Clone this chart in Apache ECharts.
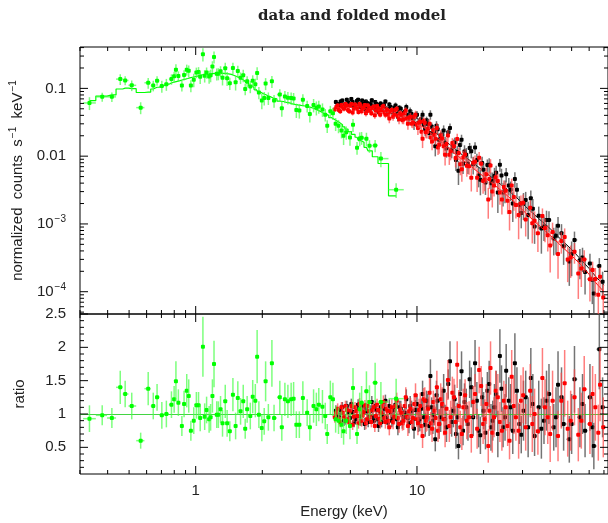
<!DOCTYPE html>
<html><head><meta charset="utf-8">
<script src="https://cdn.jsdelivr.net/npm/echarts@6/dist/echarts.min.js"></script>
<style>html,body{margin:0;padding:0;background:#fff}#c{width:608px;height:523px}</style>
</head><body><div id="c"></div><script>
// ---------- data ----------
// green (soft X-ray) spectrum
const gE = [0.331,0.378,0.418,0.456,0.48,0.514,0.564,0.61,0.643,0.669,
0.703,0.737,0.777,0.799,0.814,0.835,0.866,0.886,0.911,0.93,
0.951,0.98,1.007,1.03,1.048,1.078,1.098,1.12,1.15,1.168,
1.19,1.21,1.245,1.266,1.295,1.322,1.36,1.387,1.426,1.473,
1.515,1.55,1.595,1.64,1.674,1.708,1.765,1.81,1.86,1.895,
1.93,1.99,2.04,2.07,2.13,2.21,2.26,2.4,2.45,2.53,
2.61,2.7,2.77,2.85,2.94,3.05,3.19,3.28,3.41,3.51,
3.6,3.74,3.85,3.93,4.06,4.17,4.29,4.42,4.56,4.66,
4.79,4.98,5.14,5.36,5.51,5.62,5.91,6.1,6.47,6.87,8.05];
const gFlux = [0.061,0.075,0.075,0.137,0.131,0.111,0.052,0.121,0.110,0.130,
0.108,0.115,0.137,0.151,0.189,0.152,0.110,0.158,0.189,0.182,
0.110,0.134,0.172,0.175,0.148,0.320,0.154,0.171,0.150,0.156,
0.210,0.291,0.164,0.165,0.179,0.144,0.198,0.141,0.119,0.200,
0.123,0.180,0.144,0.156,0.098,0.127,0.107,0.130,0.115,0.169,
0.087,0.066,0.072,0.118,0.072,0.127,0.066,0.081,0.051,0.076,
0.073,0.072,0.071,0.048,0.047,0.068,0.055,0.042,0.057,0.052,
0.054,0.049,0.041,0.028,0.046,0.043,0.030,0.028,0.024,0.020,
0.0225,0.0189,0.029,0.0133,0.0182,0.0187,0.0181,0.0142,0.0144,0.0092,0.0032];
const gModel = [0.066,0.077,0.080,0.098,0.101,0.099,0.087,0.088,0.098,0.104,
0.110,0.115,0.120,0.124,0.127,0.130,0.134,0.137,0.140,0.143,
0.146,0.149,0.152,0.155,0.157,0.159,0.160,0.161,0.163,0.164,
0.165,0.166,0.166,0.167,0.167,0.167,0.166,0.164,0.161,0.155,
0.150,0.145,0.138,0.131,0.125,0.119,0.110,0.103,0.096,0.091,
0.088,0.084,0.081,0.079,0.076,0.072,0.070,0.065,0.064,0.062,
0.061,0.059,0.058,0.057,0.056,0.055,0.054,0.053,0.051,0.049,
0.047,0.044,0.042,0.040,0.037,0.035,0.033,0.031,0.029,0.027,
0.025,0.023,0.021,0.019,0.017,0.016,0.0135,0.012,0.0098,0.0078,0.0026];
const gRatio = [0.93,0.98,0.94,1.40,1.30,1.12,0.60,1.38,1.12,1.25,
0.98,1.00,1.14,1.22,1.49,1.17,0.82,1.15,1.35,1.27,
0.75,0.90,1.13,1.13,0.94,2.01,0.96,1.06,0.92,0.95,
1.27,1.75,0.99,0.99,1.07,0.86,1.19,0.86,0.74,1.29,
0.82,1.24,1.04,1.19,0.78,1.07,0.97,1.26,1.20,1.86,
0.99,0.79,0.89,1.49,0.95,1.76,0.94,1.25,0.80,1.22,
1.19,1.22,1.23,0.84,0.84,1.24,1.02,0.80,1.12,1.07,
1.14,1.11,0.97,0.70,1.25,1.22,0.92,0.90,0.84,0.74,
0.90,0.82,1.39,0.70,1.07,1.17,1.34,1.18,1.47,1.18,1.23];
const gErr = [0.2,0.15,0.15,0.25,0.2,0.2,0.12,0.25,0.2,0.2,
0.2,0.2,0.2,0.2,0.3,0.2,0.15,0.2,0.25,0.25,
0.15,0.2,0.2,0.2,0.2,0.45,0.2,0.2,0.2,0.2,
0.25,0.35,0.2,0.2,0.2,0.2,0.25,0.2,0.15,0.25,
0.2,0.25,0.2,0.25,0.15,0.2,0.2,0.25,0.25,0.4,
0.2,0.2,0.2,0.3,0.2,0.35,0.2,0.25,0.2,0.25,
0.25,0.25,0.25,0.2,0.2,0.25,0.2,0.2,0.25,0.25,
0.25,0.25,0.2,0.15,0.25,0.25,0.2,0.2,0.2,0.2,
0.2,0.2,0.3,0.15,0.25,0.25,0.3,0.25,0.3,0.3,0.3];

// black spectrum (first set)
const bE = [4.3,4.45,4.6,4.75,4.9,5.05,5.2,5.35,5.5,5.65,
5.8,5.95,6.1,6.25,6.4,6.55,6.7,6.85,7.0,7.2,
7.4,7.6,7.8,8.0,8.2,8.45,8.7,8.95,9.2,9.45,
9.7,10.0,10.3,10.6,10.9,11.2,11.5,11.8,12.1,12.4,
12.8,13.2,13.6,14.1,14.6,15.0,15.4,15.9,16.4,17.0,
17.6,18.3,19.0,19.7,20.4,21.2,22.0,22.8,23.7,24.5,
25.3,26.5,27.7,29.0,29.6,31.0,32.7,34.0,35.5,37.5,
39.5,41.5,43.4,46.0,48.8,51.5,54.5,57.5,60.5,63.0,66.7];
const bFlux = [0.063,0.057,0.066,0.056,0.062,0.070,0.053,0.065,0.058,0.066,
0.050,0.061,0.055,0.067,0.051,0.059,0.045,0.060,0.053,0.064,
0.045,0.053,0.047,0.056,0.038,0.050,0.043,0.053,0.036,0.042,
0.030,0.041,0.031,0.041,0.025,0.030,0.041,0.022,0.014,0.025,
0.0185,0.024,0.0131,0.026,0.0142,0.0088,0.0061,0.0175,0.0117,0.0077,
0.0118,0.0134,0.0052,0.0079,0.0041,0.0075,0.0043,0.0057,0.0075,0.0029,
0.0054,0.0032,0.0046,0.0019,0.00145,0.00225,0.0024,0.00092,0.00132,0.00092,
0.00114,0.00061,0.00094,0.00047,0.00028,0.00058,0.00029,0.000195,0.00026,0.000094,0.00024];
const bRatio = [1.05,0.95,1.10,0.92,1.02,1.15,0.88,1.08,0.97,1.12,
0.85,1.04,0.96,1.18,0.90,1.06,0.82,1.10,0.98,1.20,
0.87,1.03,0.93,1.14,0.80,1.08,0.95,1.22,0.86,1.05,
0.78,1.15,0.92,1.30,0.84,1.10,1.57,0.90,0.62,1.20,
0.95,1.35,0.80,1.79,1.05,0.70,0.52,1.64,1.18,0.85,
1.40,1.76,0.75,1.25,0.72,1.45,0.90,1.30,1.87,0.80,
1.65,1.10,1.76,0.85,0.69,1.25,1.54,0.67,1.10,0.90,
1.30,0.80,1.44,0.85,0.62,1.52,0.95,0.75,1.25,0.52,1.97];
const bErr = [0.08,0.08,0.08,0.08,0.08,0.08,0.08,0.08,0.08,0.08,
0.09,0.09,0.09,0.09,0.09,0.09,0.09,0.09,0.09,0.09,
0.1,0.1,0.1,0.12,0.12,0.12,0.12,0.15,0.15,0.15,
0.15,0.15,0.18,0.2,0.18,0.2,0.25,0.2,0.18,0.22,
0.22,0.25,0.22,0.3,0.25,0.22,0.2,0.3,0.28,0.25,
0.3,0.35,0.25,0.3,0.25,0.35,0.3,0.35,0.4,0.3,
0.4,0.35,0.45,0.3,0.28,0.4,0.45,0.3,0.4,0.35,
0.45,0.35,0.5,0.4,0.35,0.5,0.45,0.4,0.5,0.35,0.6];
// black spectrum (second set of bins)
const bE2 = [4.38,4.52,4.68,4.82,4.98,5.12,5.28,5.42,5.58,5.72,
5.88,6.02,6.18,6.32,6.48,6.62,6.78,6.92,7.1,7.3,
7.5,7.7,7.9,8.1,8.32,8.58,8.82,9.08,9.32,9.58,
9.85,10.15,10.45,10.75,11.05,11.35,11.65,11.95,12.25,12.6,
13.0,13.4,13.85,14.35,14.8,15.2,15.65,16.15,16.7,17.3,
17.95,18.65,19.35,20.0,20.8,21.6,22.4,23.2,24.1,25.0,
26.0,27.1,28.3,30.3,31.8,33.4,36.5,38.5,42.5,45.0,
50.0,56.0,62.0,69.0];
const bFlux2 = [0.059,0.064,0.054,0.068,0.057,0.063,0.055,0.068,0.053,0.060,
0.064,0.051,0.060,0.054,0.063,0.051,0.057,0.048,0.058,0.050,
0.058,0.045,0.052,0.045,0.052,0.040,0.045,0.040,0.046,0.036,
0.039,0.031,0.035,0.029,0.034,0.022,0.0275,0.0228,0.028,0.0173,
0.0207,0.0156,0.0225,0.0124,0.0159,0.0115,0.0146,0.0077,0.0105,0.0132,
0.0076,0.0088,0.0045,0.0063,0.0074,0.0040,0.0051,0.0029,0.0052,0.0032,
0.0037,0.0020,0.0032,0.0020,0.00136,0.00167,0.00086,0.00114,0.00067,0.00073,
0.00036,0.00032,0.00015,0.00014];
const bRatio2 = [0.98,1.06,0.90,1.12,0.94,1.03,0.92,1.14,0.90,1.02,
1.09,0.88,1.05,0.95,1.12,0.92,1.04,0.88,1.08,0.95,
1.12,0.90,1.06,0.92,1.10,0.88,1.02,0.94,1.12,0.92,
1.06,0.88,1.08,0.95,1.20,0.82,1.10,0.98,1.28,0.85,
1.12,0.92,1.45,0.88,1.22,0.95,1.30,0.75,1.10,1.52,
0.95,1.20,0.68,1.05,1.35,0.80,1.10,0.70,1.38,0.95,
1.20,0.75,1.35,1.05,0.80,1.15,0.78,1.20,0.95,1.25,
0.85,1.15,0.80,1.10];
const bErr2 = [0.08,0.08,0.08,0.08,0.08,0.08,0.08,0.08,0.08,0.08,
0.08,0.08,0.08,0.08,0.08,0.08,0.08,0.08,0.08,0.1,
0.1,0.1,0.1,0.1,0.1,0.1,0.1,0.1,0.15,0.15,
0.15,0.15,0.15,0.15,0.15,0.15,0.15,0.15,0.22,0.22,
0.22,0.22,0.22,0.22,0.22,0.22,0.22,0.22,0.28,0.28,
0.28,0.28,0.28,0.28,0.28,0.35,0.35,0.35,0.35,0.35,
0.35,0.35,0.35,0.45,0.45,0.45,0.45,0.45,0.45,0.45,
0.45,0.45,0.45,0.45];

// red spectrum (first set)
const rE = [4.25,4.38,4.5,4.62,4.75,4.88,5.0,5.12,5.25,5.38,
5.5,5.62,5.75,5.88,6.0,6.15,6.3,6.45,6.6,6.75,
6.9,7.05,7.2,7.35,7.5,7.7,7.9,8.1,8.3,8.5,
8.7,8.9,9.1,9.35,9.6,9.85,10.1,10.35,10.6,10.85,
11.1,11.4,11.7,12.0,12.3,12.6,13.0,13.4,13.8,14.2,
14.7,15.2,15.7,16.2,16.8,17.6,18.3,19.1,19.9,20.6,
21.0,21.5,22.3,23.2,24.2,25.2,26.2,26.8,28.0,29.5,
31.0,32.5,34.0,35.2,36.9,39.0,41.0,43.4,46.5,49.5,
53.6,57.0,60.5,64.0,67.2,69.5];
const rFlux = [0.049,0.056,0.046,0.053,0.059,0.048,0.056,0.044,0.058,0.050,
0.059,0.046,0.052,0.043,0.056,0.047,0.052,0.040,0.055,0.044,
0.048,0.055,0.041,0.048,0.036,0.048,0.041,0.050,0.035,0.041,
0.035,0.047,0.030,0.038,0.031,0.041,0.026,0.032,0.018,0.031,
0.023,0.030,0.0165,0.0207,0.026,0.0147,0.0182,0.0105,0.0202,0.0118,
0.014,0.0179,0.0076,0.0096,0.0072,0.0048,0.0083,0.0095,0.0043,0.0054,
0.0023,0.0073,0.0037,0.0043,0.0023,0.0031,0.0015,0.0037,0.0019,0.0020,
0.00116,0.00173,0.00111,0.00073,0.00131,0.00068,0.00076,0.00036,0.00064,0.00032,
0.000186,0.0003,0.000153,0.000154,0.000166,0.000082];
const rRatio = [0.95,1.08,0.88,1.02,1.12,0.92,1.05,0.84,1.10,0.97,
1.15,0.90,1.03,0.86,1.12,0.95,1.06,0.82,1.14,0.93,
1.02,1.18,0.88,1.05,0.80,1.10,0.96,1.20,0.85,1.02,
0.90,1.25,0.82,1.08,0.94,1.28,0.86,1.12,0.67,1.20,
0.95,1.32,0.78,1.05,1.40,0.85,1.15,0.72,1.51,0.95,
1.25,1.74,0.80,1.10,0.90,0.67,1.30,1.66,0.85,1.15,
0.52,1.69,0.95,1.25,0.75,1.10,0.60,1.56,0.95,1.20,
0.80,1.35,1.00,0.74,1.54,0.95,1.20,0.67,1.46,0.90,
0.69,1.37,0.85,1.10,1.44,0.80];
const rErr = [0.08,0.08,0.08,0.08,0.08,0.08,0.08,0.08,0.08,0.08,
0.09,0.09,0.09,0.09,0.09,0.09,0.09,0.09,0.09,0.09,
0.1,0.1,0.1,0.1,0.12,0.12,0.12,0.12,0.13,0.13,
0.14,0.15,0.15,0.16,0.16,0.18,0.18,0.2,0.18,0.2,
0.2,0.22,0.2,0.22,0.25,0.22,0.25,0.22,0.3,0.25,
0.28,0.35,0.25,0.28,0.28,0.25,0.3,0.35,0.3,0.3,
0.25,0.4,0.3,0.35,0.3,0.35,0.28,0.4,0.35,0.38,
0.35,0.4,0.38,0.35,0.45,0.4,0.45,0.38,0.5,0.45,
0.4,0.5,0.45,0.5,0.55,0.45];
// red spectrum (second set of bins)
const rE2 = [4.32,4.44,4.56,4.68,4.82,4.94,5.06,5.18,5.32,5.44,
5.56,5.68,5.82,5.94,6.08,6.22,6.38,6.52,6.68,6.82,
6.98,7.12,7.28,7.42,7.6,7.8,8.0,8.2,8.4,8.6,
8.8,9.0,9.22,9.48,9.72,9.98,10.22,10.48,10.72,10.98,
11.25,11.55,11.85,12.15,12.45,12.8,13.2,13.6,14.0,14.45,
14.95,15.45,15.95,16.5,17.2,17.95,18.7,19.5,20.25,21.25,
21.9,22.7,23.7,24.7,25.7,27.4,28.8,30.2,33.2,37.9,
40.0,44.9,48.0,51.5,55.3,62.2,66.0];
const rFlux2 = [0.053,0.048,0.057,0.050,0.056,0.046,0.059,0.050,0.054,0.045,
0.056,0.050,0.057,0.046,0.052,0.043,0.054,0.047,0.051,0.041,
0.053,0.044,0.049,0.041,0.046,0.038,0.048,0.039,0.043,0.034,
0.043,0.036,0.037,0.030,0.038,0.029,0.031,0.023,0.033,0.0226,
0.0255,0.0188,0.0242,0.018,0.0134,0.0201,0.014,0.0151,0.0105,0.0156,
0.0094,0.0111,0.0064,0.0106,0.0071,0.008,0.0048,0.0077,0.0045,0.0046,
0.0030,0.0049,0.0029,0.0035,0.0022,0.0025,0.00135,0.00205,0.00102,0.00087,
0.00048,0.00056,0.0003,0.00039,0.00022,0.00021,0.00009];
const rRatio2 = [1.02,0.92,1.10,0.95,1.06,0.88,1.12,0.96,1.04,0.86,
1.08,0.98,1.13,0.92,1.04,0.88,1.10,0.97,1.06,0.86,
1.12,0.94,1.08,0.90,1.04,0.88,1.12,0.94,1.06,0.86,
1.12,0.96,1.04,0.88,1.15,0.92,1.06,0.82,1.22,0.90,
1.08,0.86,1.18,0.94,0.75,1.22,0.92,1.08,0.82,1.32,
0.88,1.12,0.70,1.28,0.95,1.18,0.78,1.42,0.92,1.05,
0.72,1.35,0.88,1.20,0.82,1.12,0.75,1.28,0.85,1.10,
0.70,1.20,0.78,1.25,0.90,1.30,0.72];
const rErr2 = [0.08,0.08,0.08,0.08,0.08,0.08,0.08,0.08,0.08,0.08,
0.08,0.08,0.08,0.08,0.08,0.08,0.08,0.08,0.08,0.08,
0.08,0.08,0.11,0.11,0.11,0.11,0.11,0.11,0.11,0.11,
0.11,0.11,0.11,0.11,0.11,0.11,0.17,0.17,0.17,0.17,
0.17,0.17,0.17,0.17,0.17,0.24,0.24,0.24,0.24,0.24,
0.24,0.24,0.24,0.24,0.24,0.24,0.3,0.3,0.3,0.3,
0.3,0.3,0.3,0.3,0.3,0.42,0.42,0.42,0.42,0.42,
0.42,0.42,0.42,0.42,0.42,0.42,0.42];

// model curves for black and red
const mE = [4.3,5,6,7,8,9,10,11,12,13,14,15,16,18,20,22.5,25,28,31,35,40,45,50,55,60,65,70];
const bModel = [0.060,0.061,0.058,0.054,0.049,0.043,0.036,0.029,0.023,0.0185,0.015,0.0125,0.0105,0.0079,0.006,0.0045,0.0034,0.0025,0.0018,0.00125,0.00085,0.00058,0.00042,0.0003,0.00022,0.00016,0.000125];
const rModel = [0.052,0.053,0.050,0.047,0.0425,0.037,0.031,0.025,0.0197,0.0158,0.0128,0.0106,0.0089,0.0066,0.0050,0.0037,0.0028,0.0020,0.00145,0.00100,0.00068,0.00047,0.00034,0.00025,0.00018,0.00013,0.0001];

// axis ticks / labels
const xMajor = [1, 10];
const xMinor = [0.3,0.4,0.5,0.6,0.7,0.8,0.9,2,3,4,5,6,7,8,9,20,30,40,50,60,70];
const yTopMajor = [0.1, 0.01, 0.001, 0.0001];
const yTopMinor = [0.00005,0.00006,0.00007,0.00008,0.00009,
  0.0002,0.0003,0.0004,0.0005,0.0006,0.0007,0.0008,0.0009,
  0.002,0.003,0.004,0.005,0.006,0.007,0.008,0.009,
  0.02,0.03,0.04,0.05,0.06,0.07,0.08,0.09,0.2,0.3,0.4];
const yRatioMajor = [0.5, 1, 1.5, 2, 2.5];
const yRatioMinor = [0.2,0.3,0.4,0.6,0.7,0.8,0.9,1.1,1.2,1.3,1.4,1.6,1.7,1.8,1.9,2.1,2.2,2.3,2.4];
const topLabels = {'0.1':'0.1','0.01':'0.01','0.001':'10{sup|−3}','0.0001':'10{sup|−4}'};

// ---------- build ----------
const FONT = 'Liberation Sans';
// combine bins and sort by energy; returns rows [E, flux, ratio, err]
function rows(Es, Fs, Rs, Ers) {
  const out = [];
  Es.forEach((E, k) => E.forEach((e, i) => out.push([e, Fs[k][i], Rs[k][i], Ers[k][i]])));
  out.sort((a, b) => a[0] - b[0]);
  return out;
}
function withEdges(rs) {
  const n = rs.length;
  return rs.map((r, i) => {
    const e = r[0];
    const lo = i > 0 ? Math.sqrt(rs[i-1][0] * e) : e / Math.sqrt(rs[1][0] / e);
    const hi = i < n - 1 ? Math.sqrt(e * rs[i+1][0]) : e * Math.sqrt(e / rs[n-2][0]);
    return r.concat([lo, hi]);
  });
}
function topData(rs) {
  return withEdges(rs).map(r => {
    const f = r[3] / r[2];
    return [r[0], r[1], r[1] * Math.max(0.05, 1 - f), r[1] * (1 + f), r[4], r[5]];
  });
}
function ratioData(rs) {
  return withEdges(rs).map(r => [r[0], r[2], r[2] - r[3], r[2] + r[3], r[4], r[5]]);
}
const gRows = rows([gE], [gFlux], [gRatio], [gErr]);
const bRows = rows([bE, bE2], [bFlux, bFlux2], [bRatio, bRatio2], [bErr, bErr2]);
const rRows = rows([rE, rE2], [rFlux, rFlux2], [rRatio, rRatio2], [rErr, rErr2]);

function errRender(color, barColor) {
  return function (params, api) {
    const c = api.coord([api.value(0), api.value(1)]);
    const lo = api.coord([api.value(0), api.value(2)]);
    const hi = api.coord([api.value(0), api.value(3)]);
    const xl = api.coord([api.value(4), api.value(1)]);
    const xh = api.coord([api.value(5), api.value(1)]);
    return { type: 'group', children: [
      { type: 'line', shape: { x1: c[0], y1: lo[1], x2: c[0], y2: hi[1] }, style: { stroke: barColor, lineWidth: 1.5 } },
      { type: 'line', shape: { x1: xl[0], y1: c[1], x2: xh[0], y2: c[1] }, style: { stroke: barColor, lineWidth: 1.5 } },
      { type: 'rect', shape: { x: c[0] - 2, y: c[1] - 2, width: 4, height: 4, r: 1 }, style: { fill: color } }
    ] };
  };
}
function errSeries(gi, data, color, barColor, z) {
  return { type: 'custom', xAxisIndex: gi, yAxisIndex: gi, data: data, clip: true, z: z,
    encode: { x: 0, y: 1 }, renderItem: errRender(color, barColor), silent: true };
}
function xTickSeries(gi, vals, yRef, len) {
  return { type: 'custom', xAxisIndex: gi, yAxisIndex: gi, z: 20, silent: true, clip: false,
    data: vals.map(v => [v, yRef]), encode: { x: 0, y: 1 },
    renderItem: (params, api) => {
      const cs = params.coordSys; const x = api.coord([api.value(0), api.value(1)])[0];
      return { type: 'group', children: [
        { type: 'line', shape: { x1: x, y1: cs.y, x2: x, y2: cs.y + len }, style: { stroke: '#000', lineWidth: 1 } },
        { type: 'line', shape: { x1: x, y1: cs.y + cs.height, x2: x, y2: cs.y + cs.height - len }, style: { stroke: '#000', lineWidth: 1 } }
      ] };
    } };
}
function yTickSeries(gi, vals, xRef, len) {
  return { type: 'custom', xAxisIndex: gi, yAxisIndex: gi, z: 20, silent: true, clip: false,
    data: vals.map(v => [xRef, v]), encode: { x: 0, y: 1 },
    renderItem: (params, api) => {
      const cs = params.coordSys; const y = api.coord([api.value(0), api.value(1)])[1];
      return { type: 'group', children: [
        { type: 'line', shape: { x1: cs.x, y1: y, x2: cs.x + len, y2: y }, style: { stroke: '#000', lineWidth: 1 } },
        { type: 'line', shape: { x1: cs.x + cs.width, y1: y, x2: cs.x + cs.width - len, y2: y }, style: { stroke: '#000', lineWidth: 1 } }
      ] };
    } };
}
function near(a, b) { return Math.abs(a - b) < 1e-6 * Math.max(1, Math.abs(b)); }

const supStyle = { fontSize: 10, fontFamily: FONT, color: '#222', padding: [0, 0, 9, 1] };
const XMIN = 0.3, XMAX = 73;
const BLACK_BAR = 'rgba(70,70,70,0.75)', RED_BAR = 'rgba(255,70,70,0.7)', GREEN_BAR = 'rgba(70,255,70,0.7)';

const option = {
  animation: false,
  backgroundColor: '#fff',
  title: { text: 'data and folded model', left: 347, top: 4, textAlign: 'center',
    textStyle: { fontFamily: 'DejaVu Serif', fontWeight: 'bold', fontSize: 15, color: '#222' } },
  grid: [
    { left: 80, right: -4, top: 47, height: 267, show: true, borderColor: '#000', borderWidth: 1, backgroundColor: 'transparent' },
    { left: 80, right: -4, top: 314, height: 160, show: true, borderColor: '#000', borderWidth: 1, backgroundColor: 'transparent' }
  ],
  xAxis: [
    { gridIndex: 0, type: 'log', logBase: 10, min: XMIN, max: XMAX,
      axisLabel: { show: false }, axisTick: { show: false }, axisLine: { show: false }, splitLine: { show: false } },
    { gridIndex: 1, type: 'log', logBase: 10, min: XMIN, max: XMAX,
      axisTick: { show: false }, axisLine: { show: false }, splitLine: { show: false },
      axisLabel: { fontFamily: FONT, fontSize: 15, color: '#222', margin: 9, showMinLabel: false, showMaxLabel: false,
        formatter: v => { for (const m of xMajor) if (near(v, m)) return String(m); return ''; } },
      name: 'Energy (keV)', nameLocation: 'middle', nameGap: 30,
      nameTextStyle: { fontFamily: FONT, fontSize: 15, color: '#222' } }
  ],
  yAxis: [
    { gridIndex: 0, type: 'log', logBase: 10, min: 4.69e-5, max: 0.408,
      axisTick: { show: false }, axisLine: { show: false }, splitLine: { show: false },
      axisLabel: { fontFamily: FONT, fontSize: 15, color: '#222', margin: 14, showMinLabel: false, showMaxLabel: false,
        formatter: v => { for (const m of yTopMajor) if (near(v, m)) return topLabels[String(m)]; return ''; },
        rich: { sup: supStyle } },
      name: 'normalized  counts  s{sup|−1}  keV{sup|−1}', nameLocation: 'middle', nameGap: 53,
      nameTextStyle: { fontFamily: FONT, fontSize: 15, color: '#222', rich: { sup: supStyle } } },
    { gridIndex: 1, type: 'value', min: 0.1, max: 2.5, interval: 0.1,
      axisTick: { show: false }, axisLine: { show: false }, splitLine: { show: false },
      axisLabel: { fontFamily: FONT, fontSize: 15, color: '#222', margin: 14,
        formatter: v => { for (const m of yRatioMajor) if (near(v, m)) return String(m); return ''; } },
      name: 'ratio', nameLocation: 'middle', nameGap: 53,
      nameTextStyle: { fontFamily: FONT, fontSize: 15, color: '#222' } }
  ],
  series: [
    // upper panel
    { type: 'line', xAxisIndex: 0, yAxisIndex: 0, data: mE.map((e, i) => [e, bModel[i]]), symbol: 'none',
      lineStyle: { color: '#000', width: 1 }, z: 2, silent: true },
    errSeries(0, topData(bRows), '#000', BLACK_BAR, 3),
    { type: 'line', xAxisIndex: 0, yAxisIndex: 0, data: mE.map((e, i) => [e, rModel[i]]), symbol: 'none',
      lineStyle: { color: '#ff0000', width: 1 }, z: 4, silent: true },
    errSeries(0, topData(rRows), '#ff0000', RED_BAR, 5),
    { type: 'line', xAxisIndex: 0, yAxisIndex: 0, data: gE.map((e, i) => [e, gModel[i]]), symbol: 'none', step: 'middle',
      lineStyle: { color: '#00ff00', width: 1.2 }, z: 6, silent: true },
    errSeries(0, topData(gRows), '#00ff00', GREEN_BAR, 7),
    // ratio panel
    errSeries(1, ratioData(bRows), '#000', BLACK_BAR, 3),
    errSeries(1, ratioData(rRows), '#ff0000', RED_BAR, 5),
    errSeries(1, ratioData(gRows), '#00ff00', GREEN_BAR, 7),
    { type: 'line', xAxisIndex: 1, yAxisIndex: 1, data: [], z: 9, silent: true,
      markLine: { silent: true, symbol: 'none', animation: false, label: { show: false },
        lineStyle: { color: '#22cc22', width: 1.2, type: 'solid', opacity: 0.85 }, data: [{ yAxis: 1 }] } },
    // ticks
    xTickSeries(0, xMajor, 0.01, 8), xTickSeries(0, xMinor, 0.01, 4),
    xTickSeries(1, xMajor, 1, 8), xTickSeries(1, xMinor, 1, 4),
    yTickSeries(0, yTopMajor, 1, 8), yTickSeries(0, yTopMinor, 1, 4),
    yTickSeries(1, yRatioMajor, 1, 8), yTickSeries(1, yRatioMinor, 1, 4)
  ]
};
const chart = echarts.init(document.getElementById('c'), null, { renderer: 'canvas' });
chart.setOption(option);
</script></body></html>
